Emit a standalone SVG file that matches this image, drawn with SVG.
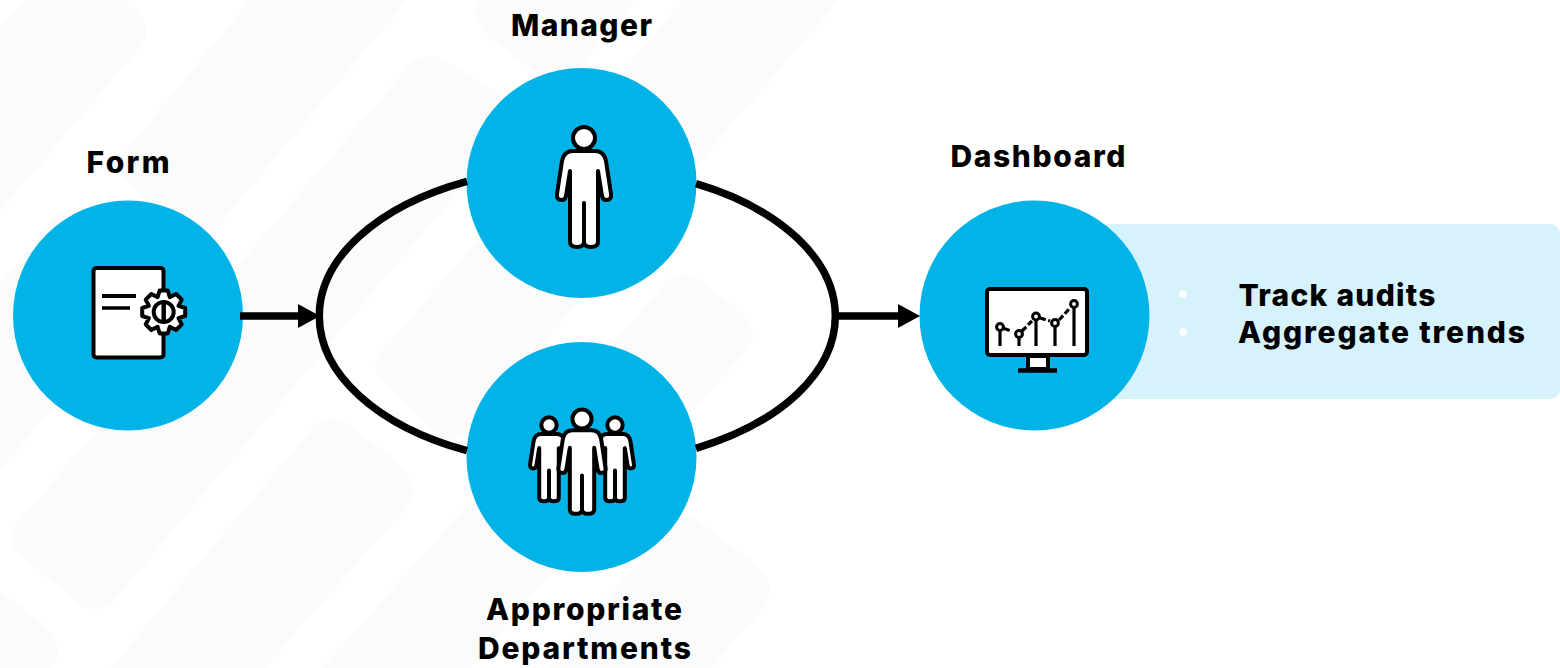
<svg xmlns="http://www.w3.org/2000/svg" width="1560" height="668" viewBox="0 0 1560 668">
<style>
.bg{fill:#fbfbfb}
.disc{fill:#02b3e8}
.ln{fill:#fff;stroke:#000;stroke-width:4;stroke-linejoin:round;stroke-linecap:round;vector-effect:non-scaling-stroke}
.blk{fill:none;stroke:#000;stroke-linecap:butt}
.lab{font-family:Inter,"Liberation Sans",sans-serif;font-weight:800;font-size:30px;fill:#000}
.conn{fill:none;stroke:#000;stroke-width:7.500}
</style>
<defs>
<marker id="head" markerUnits="userSpaceOnUse" markerWidth="22" markerHeight="24" refX="0" refY="12" orient="auto" viewBox="0 0 22 24"><path d="M0,0L22,12L0,24Z" fill="#000"/></marker>
<g id="person">
<circle class="ln" cx="0" cy="0" r="11"/>
<path class="ln" d="M0,13H11Q20,13 22,23L27,56Q28,62 22,62Q19,62 18,58L14,33V104Q14,109 7,109Q0,109 0,104V65V104Q0,109 -7,109Q-14,109 -14,104V33L-18,58Q-19,62 -22,62Q-28,62 -27,56L-22,23Q-20,13 -11,13Z"/>
</g>
</defs>
<rect width="1560" height="668" fill="#fff"/>
<g id="background">
<path class="bg" d="M23,0L0,27V212L140,47Q155,28 135,10L123,0Z"/>
<path class="bg" d="M250,0L122,155Q112,168 125,180L165,222Q180,240 200,248L408,0Z"/>
<path class="bg" d="M0,285L55,215Q66,204 80,214L180,262L0,470Z"/>
<path class="bg" d="M412,62Q428,50 447,62L505,97Q525,110 510,130L115,600Q100,616 80,605L25,560Q3,543 18,522Z"/>
<path class="bg" d="M315,425Q330,412 350,425L395,460Q425,485 405,510L265,668H110Z"/>
<path class="bg" d="M0,592L40,622Q70,648 50,668H0Z"/>
<path class="bg" d="M322,668L665,283Q678,268 700,280L735,307Q765,330 745,352L470,668Z"/>
<path class="bg" d="M548,668L670,525Q682,510 700,522L750,560Q782,585 762,610L712,668Z"/>
<path class="bg" d="M478,0Q468,15 490,38L560,90L635,0Z"/>
<path class="bg" d="M683,0H840L465,433Q450,446 435,433L385,385Q368,368 381,352Z"/>
</g>
<g id="node-form">
<text class="lab" x="86.500" y="172.500" textLength="83" lengthAdjust="spacing">Form</text>
<circle class="disc" cx="128" cy="315.500" r="115"/>
<rect class="ln" x="93.5" y="268" width="70" height="89.500" rx="3"/>
<path class="blk" d="M102,296H136" stroke-width="4"/>
<path class="blk" d="M102,308H130" stroke-width="3.500"/>
<path class="ln" transform="translate(163.700,312)" d="M-4,-21.500L4,-21.500L6.100,-14.800L12.400,-18L18,-12.400L14.800,-6.100L21.500,-4L21.500,4L14.800,6.100L18,12.400L12.400,18L6.100,14.800L4,21.500L-4,21.500L-6.100,14.800L-12.400,18L-18,12.400L-14.800,6.100L-21.500,4L-21.500,-4L-14.800,-6.100L-18,-12.400L-12.400,-18L-6.100,-14.800Z"/>
<circle class="ln" cx="163.700" cy="312" r="10"/>
<path class="blk" d="M163.700,303V321" stroke-width="4.500"/>
</g>
<g id="node-manager">
<text class="lab" x="511" y="36" textLength="141" lengthAdjust="spacing">Manager</text>
<circle class="disc" cx="581.500" cy="183" r="115"/>
<use href="#person" transform="translate(584,138)"/>
</g>
<g id="node-departments">
<circle class="disc" cx="581.500" cy="457" r="115"/>
<use href="#person" transform="translate(549,425) scale(.7)"/>
<use href="#person" transform="translate(615,425) scale(.7)"/>
<use href="#person" transform="translate(582,419) scale(.87)"/>
<text class="lab" x="486" y="620" textLength="196" lengthAdjust="spacing">Appropriate</text>
<text class="lab" x="478" y="659" textLength="213" lengthAdjust="spacing">Departments</text>
</g>
<g id="node-dashboard">
<rect x="1100" y="224" width="460" height="175" rx="10" fill="#d6f3fc"/>
<text class="lab" x="950.500" y="166.500" textLength="175" lengthAdjust="spacing">Dashboard</text>
<circle class="disc" cx="1034.500" cy="315.500" r="115"/>
<rect class="ln" x="1028" y="356" width="20" height="13"/>
<path class="blk" d="M1018,370.500H1057" stroke-width="4.500"/>
<rect class="ln" x="987" y="289" width="100" height="66" rx="3"/>
<path class="blk" d="M1000,330V346M1019,338V346M1036,320V346M1055,327V346M1074,308V346" stroke-width="3.200"/>
<path class="blk" d="M1004,328.500L1011,331M1022,331L1032,321M1040,318L1050,321M1059,320L1070,308" stroke-width="3.200" stroke-dasharray="6 2.500"/>
<g fill="#fff" stroke="#000" stroke-width="3">
<circle cx="1000" cy="327" r="3.400"/><circle cx="1019" cy="334" r="3.400"/><circle cx="1036" cy="316.500" r="3.400"/><circle cx="1055" cy="323" r="3.400"/><circle cx="1074" cy="304" r="3.400"/>
</g>
<circle cx="1183" cy="294" r="3.800" fill="#fff"/>
<circle cx="1183" cy="332" r="3.800" fill="#fff"/>
<text class="lab" x="1238.500" y="305.500" textLength="197" lengthAdjust="spacing">Track audits</text>
<text class="lab" x="1238" y="343" textLength="287" lengthAdjust="spacing">Aggregate trends</text>
</g>
<g id="connectors">
<path class="conn" d="M467,181.300A258,149 0 0 0 467,450.700"/>
<path class="conn" d="M696,183.700A258,149 0 0 1 696,448.300"/>
<line class="conn" x1="240" y1="316" x2="298" y2="316" marker-end="url(#head)"/>
<line class="conn" x1="838" y1="316" x2="898" y2="316" marker-end="url(#head)"/>
</g>
</svg>
